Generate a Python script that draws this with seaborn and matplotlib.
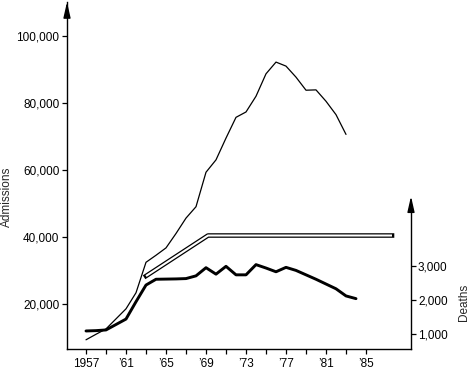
import seaborn as sns
import matplotlib.pyplot as plt

adm_years = list(range(1957, 1984))
admissions = [9250, 10900, 12500, 15500, 18500, 23300, 32400, 34500, 36700, 41000,
              45600, 49000, 59300, 63000, 69500, 75700, 77300, 82000, 88700, 92200,
              91000, 87700, 83800, 83900, 80500, 76500, 70600]

death_years = list(range(1957, 1985))
deaths = [1090, 1100, 1120, 1280, 1440, 1950, 2440, 2610, 2615, 2620, 2630, 2710,
          2950, 2760, 2990, 2740, 2740, 3040, 2940, 2830, 2960, 2870, 2740, 2610,
          2470, 2330, 2120, 2040]

band_years = [1963, 1969.2, 1987.6]
band_level = [28300, 40400, 40400]

xtick_years = list(range(1957, 1987, 2))
xlabel_years = [1957, 1961, 1965, 1969, 1973, 1977, 1981, 1985]
xlabels = ["1957", "\u201961", "\u201965", "\u201969", "\u201973", "\u201977", "\u201981", "\u201985"]
adm_ticks = [20000, 40000, 60000, 80000, 100000]
death_ticks = [1000, 2000, 3000]

sns.set_style("ticks")
plt.rcParams['font.family'] = ['Liberation Sans', 'DejaVu Sans']
plt.rcParams['font.size'] = 8.5

fig = plt.figure(figsize=(4.71, 3.69), dpi=100)
ax = fig.add_axes([67 / 471, 20 / 369, 344 / 471, 347 / 369])

sns.lineplot(x=adm_years, y=admissions, ax=ax, color="black", lw=0.9)
# hollow double line
sns.lineplot(x=band_years, y=band_level, ax=ax, color="black", lw=3.3)
ax.lines[-1].set_solid_capstyle("projecting")
sns.lineplot(x=band_years, y=band_level, ax=ax, color="white", lw=1.5)
ax.lines[-1].set_solid_capstyle("butt")

ax.set_xlim(1955.1, 1989.5)
ax.set_ylim(6500, 110150)
ax.set_xticks(xtick_years)
ax.set_xticklabels([xlabels[xlabel_years.index(y)] if y in xlabel_years else "" for y in xtick_years])
ax.set_yticks(adm_ticks)
ax.set_yticklabels([f"{v:,}" for v in adm_ticks])
ax.set_ylabel("Admissions")
ax.yaxis.set_label_coords(-0.158, 0.44)
ax.set_xlabel("")
for s in ["top", "right"]:
    ax.spines[s].set_visible(False)
for s in ["left", "bottom"]:
    ax.spines[s].set_linewidth(1.0)
    ax.spines[s].set_color("black")
ax.tick_params(axis="both", length=3.5, width=0.9, color="black", labelcolor="black")
ax.tick_params(axis="y", pad=2)
ax.tick_params(axis="x", pad=3)

ax2 = ax.twinx()
sns.lineplot(x=death_years, y=deaths, ax=ax2, color="black", lw=2.1)
ax2.set_ylim(560, 10760)
ax2.set_yticks(death_ticks)
ax2.set_yticklabels([f"{v:,}" for v in death_ticks])
ax2.spines["right"].set_bounds(560, 4650)
ax2.spines["right"].set_linewidth(1.0)
ax2.spines["right"].set_color("black")
for s in ["top", "left", "bottom"]:
    ax2.spines[s].set_visible(False)
ax2.tick_params(axis="y", length=3.5, width=0.9, pad=1.5, color="black", labelcolor="black")
ax2.set_ylabel("Deaths")
ax2.yaxis.set_label_coords(1.138, 0.135)

# arrow heads on the vertical axes
ax.annotate("", xy=(1955.1, 110150), xytext=(1955.1, 106000), xycoords="data",
            arrowprops=dict(arrowstyle="-|>,head_length=1.1,head_width=0.25", color="black", lw=1, shrinkA=0, shrinkB=0),
            annotation_clip=False)
ax2.annotate("", xy=(1989.5, 5050), xytext=(1989.5, 4600), xycoords="data",
             arrowprops=dict(arrowstyle="-|>,head_length=1.1,head_width=0.25", color="black", lw=1, shrinkA=0, shrinkB=0),
             annotation_clip=False)

fig.savefig("out.png", dpi=100)
